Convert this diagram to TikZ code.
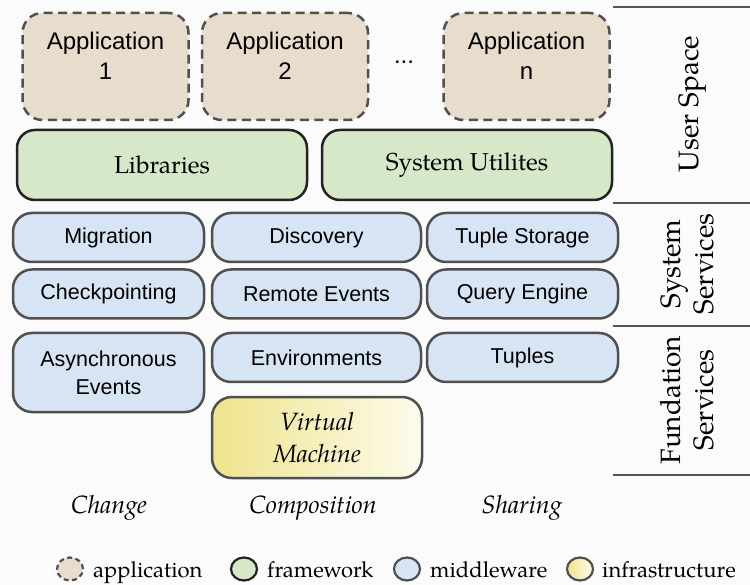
\documentclass[tikz,border=0pt]{standalone}
\usepackage{fontspec}
\setmainfont{TeX Gyre Pagella}
\newfontfamily\sansf{Liberation Sans}
\usetikzlibrary{shapes.geometric}
\definecolor{appfill}{RGB}{232,221,205}
\definecolor{frfill}{RGB}{214,232,200}
\definecolor{mwfill}{RGB}{214,228,243}
\definecolor{vmleft}{RGB}{238,228,140}
\definecolor{vmright}{RGB}{253,251,236}
\definecolor{bgc}{RGB}{251,251,251}
\definecolor{edgec}{RGB}{80,80,80}
\definecolor{fredge}{RGB}{35,35,35}
\definecolor{linec}{RGB}{85,85,85}
\begin{document}
\begin{tikzpicture}[x=1pt,y=-1pt,
  appbox/.style={draw=edgec, fill=appfill, line width=2.5pt, dash pattern=on 9pt off 5.5pt,
    rounded corners=20pt, minimum width=166pt, minimum height=107pt, inner sep=0pt},
  apptext/.style={align=center, font=\sansf\fontsize{24}{30}\selectfont, inner sep=0pt},
  frbox/.style={draw=fredge, fill=frfill, line width=2.5pt, rounded corners=18pt,
    minimum width=290pt, minimum height=70pt, inner sep=0pt,
    font=\fontsize{24.5}{30}\selectfont},
  mwbox/.style={draw=edgec, fill=mwfill, line width=2.5pt, rounded corners=19pt,
    minimum height=49pt, inner sep=0pt, align=center,
    font=\sansf\fontsize{21.5}{28}\selectfont},
  vmbox/.style={draw=edgec, left color=vmleft, right color=vmright, line width=2.5pt,
    rounded corners=20pt, minimum width=210pt, minimum height=81pt, inner sep=0pt,
    align=center, font=\itshape\fontsize{25}{32}\selectfont},
  sidelabel/.style={rotate=90, align=center, inner sep=0pt, font=\fontsize{28}{33}\selectfont},
  sep/.style={draw=linec, line width=2.5pt},
  collabel/.style={anchor=base, inner sep=0pt, font=\itshape\fontsize{25}{30}\selectfont},
  legtext/.style={anchor=base west, inner sep=0pt, font=\fontsize{22}{27}\selectfont},
  legmark/.style={ellipse, minimum width=26pt, minimum height=23pt, inner sep=0pt, line width=2.2pt}
]
\fill[bgc] (0,0) rectangle (750,585);
\useasboundingbox (0,0) rectangle (750,585);

% applications
\node[appbox] (a1) at (105.5,66.5) {};
\node[apptext] (a1t) at (105.5,56) {Application\\1};
\node[appbox] (a2) at (285,66.5) {};
\node[apptext] (a2t) at (285,56) {Application\\2};
\node[apptext] (dots) at (404,62) {...};
\node[appbox] (an) at (526.5,66.5) {};
\node[apptext] (ant) at (526.5,56) {Application\\n};

% frameworks
\node[frbox] (lib) at (162,165) {Libraries};
\node[frbox] (sys) at (467,165) {System Utilites};

% middleware
\node[mwbox, minimum width=191pt] (mig) at (108.5,237.5) {Migration};
\node[mwbox, minimum width=209pt] (disc) at (316.5,237.5) {Discovery};
\node[mwbox, minimum width=191pt] (ts) at (522.5,237.5) {Tuple Storage};
\node[mwbox, minimum width=191pt] (chk) at (108.5,294) {Checkpointing};
\node[mwbox, minimum width=209pt] (rem) at (316.5,294) {Remote Events};
\node[mwbox, minimum width=191pt] (qe) at (522.5,294) {Query Engine};
\node[mwbox, minimum width=191pt, minimum height=79pt] (async) at (108.5,372.5) {Asynchronous\\Events};
\node[mwbox, minimum width=209pt] (env) at (316.5,357.5) {Environments};
\node[mwbox, minimum width=191pt] (tup) at (522.5,357.5) {Tuples};

% infrastructure
\node[vmbox] (vm) at (317,437.5) {Virtual\\Machine};

% right panel
\coordinate (l0a) at (613,7);   \coordinate (l0b) at (750,7);
\coordinate (l1a) at (613,203); \coordinate (l1b) at (750,203);
\coordinate (l2a) at (613,326); \coordinate (l2b) at (750,326);
\coordinate (l3a) at (613,475); \coordinate (l3b) at (750,475);
\draw[sep] (l0a) -- (l0b);
\draw[sep] (l1a) -- (l1b);
\draw[sep] (l2a) -- (l2b);
\draw[sep] (l3a) -- (l3b);
\node[sidelabel] (us) at (693,104) {User Space};
\node[sidelabel] (ss) at (687,264) {System\\Services};
\node[sidelabel] (fs) at (687,400) {Fundation\\Services};

% column labels
\node[collabel] (ch) at (109,513) {Change};
\node[collabel] (co) at (313,513) {Composition};
\node[collabel] (sh) at (522,513) {Sharing};

% legend
\node[legmark, draw=edgec, fill=appfill, dash pattern=on 5pt off 3.5pt] (lapp) at (70,569) {};
\node[legtext] (tapp) at (93,577) {application};
\node[legmark, draw=fredge, fill=frfill] (lfr) at (244,569) {};
\node[legtext] (tfr) at (267,577) {framework};
\node[legmark, draw=edgec, fill=mwfill] (lmw) at (407,569) {};
\node[legtext] (tmw) at (430,577) {middleware};
\node[legmark, draw=edgec, left color=vmleft, right color=vmright] (lin) at (580,569) {};
\node[legtext] (tin) at (602,577) {infrastructure};
\end{tikzpicture}
\end{document}
